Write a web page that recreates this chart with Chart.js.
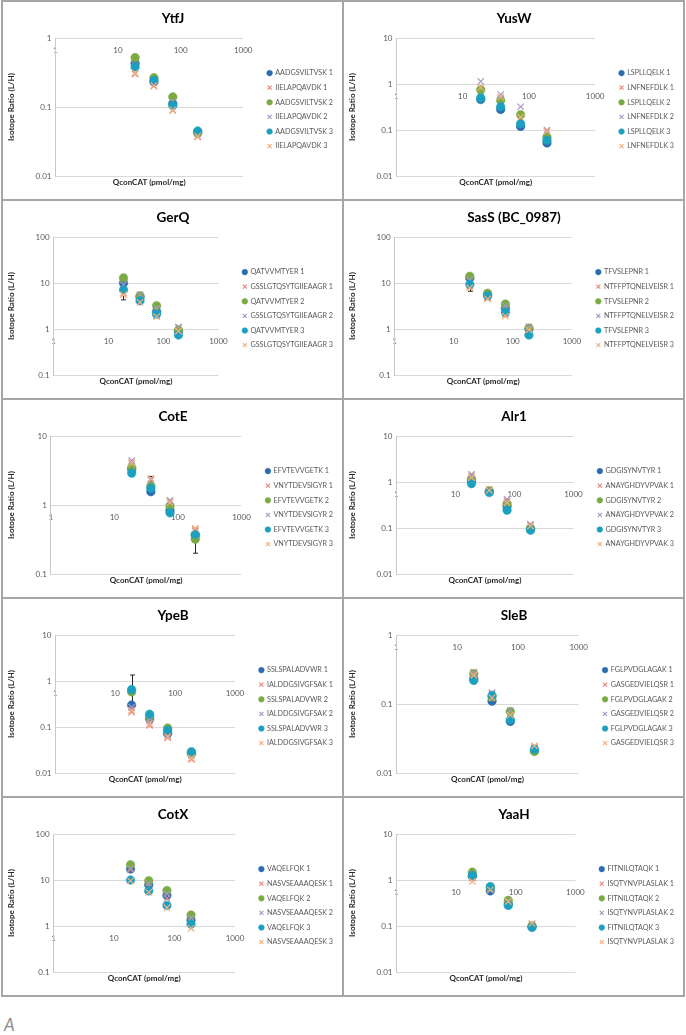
<!DOCTYPE html>
<html>
<head>
<meta charset="utf-8">
<script src="https://cdn.jsdelivr.net/npm/chart.js@4.4.1/dist/chart.umd.min.js"></script>
<style>
body { margin: 0; background: #fff; }
#fig { position: absolute; left: 1px; top: 0; width: 682px; height: 995px; border: 1px solid #a6a6a6; }
.panel { position: absolute; width: 341px; height: 199px; box-sizing: border-box; border: 1px solid #a6a6a6; }
.panel canvas { display: block; }
#tag { position: absolute; left: 4px; top: 1014px; font: italic 17px Lato, sans-serif; color: #8c8c8c; }
</style>
</head>
<body>
<div id="fig"></div>
<div id="tag">A</div>
<script>
// x positions shared by every panel (pmol/mg)
const concentrations = [18.75, 37.5, 75, 187.5];
const xTicks = [1, 10, 100, 1000];

// series order: peptide A rep 1, peptide B rep 1, A rep 2, B rep 2, A rep 3, B rep 3
const seriesColors = ["#2b6cb0", "#e6877c", "#79aa44", "#a797c6", "#1ca0bf", "#f5ae7c"];
const seriesShapes = ["circle", "crossRot", "circle", "crossRot", "circle", "crossRot"];

const ytfjPeptides = ["AADGSVILTVSK", "IIELAPQAVDK"];
const ytfjTicks = [0.01, 0.1, 1];
const ytfjValues = [
    [0.43, 0.23, 0.112, 0.043],
    [0.30, 0.20, 0.089, 0.037],
    [0.52, 0.266, 0.14, 0.042],
    [0.40, 0.23, 0.118, 0.041],
    [0.38, 0.243, 0.105, 0.045],
    [0.31, 0.205, 0.091, 0.038]
];

const yuswPeptides = ["LSPLLQELK", "LNFNEFDLK"];
const yuswTicks = [0.01, 0.1, 1, 10];
const yuswValues = [
    [0.46, 0.28, 0.12, 0.052],
    [0.70, 0.48, 0.176, 0.091],
    [0.75, 0.44, 0.215, 0.07],
    [1.14, 0.59, 0.32, 0.10],
    [0.50, 0.32, 0.137, 0.06],
    [0.83, 0.52, 0.19, 0.094]
];

const gerqPeptides = ["QATVVMTYER", "GSSLGTQSYTGIIEAAGR"];
const gerqTicks = [0.1, 1, 10, 100];
const gerqValues = [
    [10, 4.9, 2.4, 0.88],
    [6.0, 4.3, 1.95, 1.05],
    [12.9, 5.3, 3.2, 0.95],
    [9.2, 5.5, 2.8, 1.12],
    [7.1, 4.1, 2.1, 0.74],
    [5.5, 3.8, 1.85, 0.9]
];
const gerqErrors = [[5, 0, 1.2, 1.2]];

const sassPeptides = ["TFVSLEPNR", "NTFFPTQNELVEISR"];
const sassTicks = [0.1, 1, 10, 100];
const sassValues = [
    [12.8, 5.5, 2.8, 1.0],
    [8.5, 4.8, 2.1, 1.09],
    [14, 6.0, 3.5, 1.05],
    [11.8, 5.1, 3.2, 1.12],
    [9.3, 5.3, 2.3, 0.74],
    [7.8, 4.5, 1.9, 0.96]
];
const sassErrors = [[5, 0, 1.2, 1.2]];

const cotePeptides = ["EFVTEVVGETK", "VNYTDEVSIGYR"];
const coteTicks = [0.1, 1, 10];
const coteValues = [
    [3.3, 1.56, 0.84, 0.36],
    [4.1, 2.4, 1.12, 0.44],
    [3.5, 1.9, 0.97, 0.32],
    [4.4, 2.3, 1.17, 0.42],
    [2.9, 1.75, 0.77, 0.376],
    [4.0, 2.4, 1.08, 0.46]
];
const coteErrors = [[1, 1, 0.2, 0.2], [2, 3, 0.12, 0.12]];

const alr1Peptides = ["GDGISYNVTYR", "ANAYGHDYVPVAK"];
const alr1Ticks = [0.01, 0.1, 1, 10];
const alr1Values = [
    [1.05, 0.62, 0.30, 0.095],
    [1.35, 0.69, 0.385, 0.12],
    [1.18, 0.64, 0.34, 0.1],
    [1.47, 0.64, 0.42, 0.117],
    [0.92, 0.59, 0.245, 0.09],
    [1.25, 0.66, 0.355, 0.11]
];

const ypebPeptides = ["SSLSPALADVWR", "IALDDGSIVGFSAK"];
const ypebTicks = [0.01, 0.1, 1, 10];
const ypebValues = [
    [0.30, 0.15, 0.072, 0.027],
    [0.21, 0.109, 0.058, 0.0197],
    [0.58, 0.17, 0.095, 0.026],
    [0.27, 0.14, 0.066, 0.024],
    [0.65, 0.19, 0.085, 0.029],
    [0.23, 0.12, 0.062, 0.021]
];
const ypebErrors = [[4, 0, 0.35, 0.7]];

const slebPeptides = ["FGLPVDGLAGAK", "GASGEDVIELQSR"];
const slebTicks = [0.01, 0.1, 1];
const slebValues = [
    [0.233, 0.11, 0.056, 0.021],
    [0.29, 0.14, 0.073, 0.024],
    [0.275, 0.126, 0.078, 0.0205],
    [0.28, 0.146, 0.080, 0.023],
    [0.22, 0.133, 0.059, 0.022],
    [0.26, 0.123, 0.069, 0.0248]
];

const cotxPeptides = ["VAQELFQK", "NASVSEAAAQESK"];
const cotxTicks = [0.1, 1, 10, 100];
const cotxValues = [
    [17.3, 7.8, 4.6, 1.35],
    [16.7, 7.2, 4.0, 1.2],
    [21.4, 9.6, 5.9, 1.74],
    [18, 8.5, 5.0, 1.48],
    [10, 5.8, 2.8, 1.1],
    [9.6, 5.4, 2.5, 0.89]
];

const yaahPeptides = ["FITNILQTAQK", "ISQTYNVPLASLAK"];
const yaahTicks = [0.01, 0.1, 1, 10];
const yaahValues = [
    [1.2, 0.58, 0.30, 0.097],
    [1.1, 0.64, 0.32, 0.11],
    [1.48, 0.69, 0.36, 0.1],
    [1.34, 0.66, 0.35, 0.105],
    [1.26, 0.72, 0.28, 0.093],
    [0.93, 0.61, 0.34, 0.114]
];

const panels = [
    { title: "YtfJ", peptides: ytfjPeptides, ticks: ytfjTicks, values: ytfjValues, errors: [] },
    { title: "YusW", peptides: yuswPeptides, ticks: yuswTicks, values: yuswValues, errors: [] },
    { title: "GerQ", peptides: gerqPeptides, ticks: gerqTicks, values: gerqValues, errors: gerqErrors },
    { title: "SasS (BC_0987)", peptides: sassPeptides, ticks: sassTicks, values: sassValues, errors: sassErrors },
    { title: "CotE", peptides: cotePeptides, ticks: coteTicks, values: coteValues, errors: coteErrors },
    { title: "Alr1", peptides: alr1Peptides, ticks: alr1Ticks, values: alr1Values, errors: [] },
    { title: "YpeB", peptides: ypebPeptides, ticks: ypebTicks, values: ypebValues, errors: ypebErrors },
    { title: "SleB", peptides: slebPeptides, ticks: slebTicks, values: slebValues, errors: [] },
    { title: "CotX", peptides: cotxPeptides, ticks: cotxTicks, values: cotxValues, errors: [] },
    { title: "YaaH", peptides: yaahPeptides, ticks: yaahTicks, values: yaahValues, errors: [] }
];

Chart.defaults.font.family = "Lato, 'Open Sans', sans-serif";

// error bars: [series, point, minus, plus]
function errorBars(values, bars) {
    return {
        id: "errorBars",
        beforeDatasetsDraw(chart) {
            const { ctx, scales: { x, y } } = chart;
            ctx.save();
            ctx.strokeStyle = "#262626";
            ctx.lineWidth = 1;
            bars.forEach(([s, p, minus, plus]) => {
                const px = Math.round(x.getPixelForValue(concentrations[p])) + 0.5;
                const v = values[s][p];
                const top = y.getPixelForValue(v + plus);
                const bottom = y.getPixelForValue(v - minus);
                ctx.beginPath();
                ctx.moveTo(px, top); ctx.lineTo(px, bottom);
                ctx.moveTo(px - 2.5, top); ctx.lineTo(px + 2.5, top);
                ctx.moveTo(px - 2.5, bottom); ctx.lineTo(px + 2.5, bottom);
                ctx.stroke();
            });
            ctx.restore();
        }
    };
}

const fig = document.getElementById("fig");

panels.forEach((p, idx) => {
    const div = document.createElement("div");
    div.className = "panel";
    div.style.left = (idx % 2) * 341 + "px";
    div.style.top = Math.floor(idx / 2) * 199 + "px";
    const canvas = document.createElement("canvas");
    canvas.width = 339;
    canvas.height = 197;
    div.appendChild(canvas);
    fig.appendChild(div);

    const datasets = p.values.map((vals, i) => {
        const circle = seriesShapes[i] === "circle";
        return {
            label: p.peptides[i % 2] + " " + (Math.floor(i / 2) + 1),
            data: vals.map((v, j) => ({ x: concentrations[j], y: v })),
            pointStyle: seriesShapes[i],
            pointRadius: circle ? 4.3 : 4.5,
            backgroundColor: seriesColors[i],
            borderColor: seriesColors[i],
            borderWidth: circle ? 0.5 : 1.2,
            yAxisID: "y",
            order: 5 - i
        };
    });

    new Chart(canvas, {
        type: "scatter",
        data: { datasets },
        options: {
            responsive: false,
            animation: false,
            events: [],
            layout: { padding: { right: -1 } },
            scales: {
                x: {
                    type: "logarithmic",
                    min: 1,
                    max: 1000,
                    position: { y: 1 },
                    afterBuildTicks: (a) => { a.ticks = xTicks.map(v => ({ value: v })); },
                    grid: { display: false, drawTicks: false },
                    border: { display: false },
                    ticks: { padding: 7.5, color: "#595959", font: { size: 8 }, autoSkip: false, maxRotation: 0, callback: v => String(v) }
                },
                y: {
                    type: "logarithmic",
                    position: "left",
                    min: p.ticks[0],
                    max: p.ticks[p.ticks.length - 1],
                    afterBuildTicks: (a) => { a.ticks = p.ticks.map(v => ({ value: v })); },
                    afterFit: (a) => { a.width += 11; },
                    grid: { color: "#d9d9d9", drawTicks: false },
                    border: { color: "#c8c8c8" },
                    ticks: { padding: 4, color: "#595959", font: { size: 8 }, callback: v => String(v) },
                    title: { display: true, text: "Isotope Ratio (L/H)", color: "#262626", font: { size: 8, weight: "bold" }, padding: 4 }
                },
                gap: {
                    type: "linear",
                    position: "right",
                    ticks: { display: false },
                    grid: { display: false },
                    border: { display: false },
                    afterFit: (a) => { a.width = 17; }
                }
            },
            plugins: {
                title: {
                    display: true,
                    text: p.title,
                    color: "#000",
                    font: { size: 13.5, weight: "bold" },
                    padding: { top: 8.3, bottom: 11.5 }
                },
                subtitle: {
                    display: true,
                    text: "QconCAT (pmol/mg)",
                    position: "bottom",
                    fullSize: false,
                    color: "#262626",
                    font: { size: 8, weight: "bold" },
                    padding: { top: 2, bottom: 11.4 }
                },
                legend: {
                    position: "right",
                    fullSize: false,
                    align: "start",
                    maxWidth: 130,
                    title: { display: true, text: "", font: { size: 8 }, padding: { top: 0, bottom: 14.5 } },
                    labels: {
                        usePointStyle: true,
                        boxWidth: 4,
                        boxHeight: 4,
                        padding: 7.4,
                        color: "#595959",
                        font: { size: 7.2 },
                        sort: (a, b) => a.datasetIndex - b.datasetIndex
                    }
                },
                tooltip: { enabled: false }
            }
        },
        plugins: [errorBars(p.values, p.errors)]
    });
});
</script>
</body>
</html>
